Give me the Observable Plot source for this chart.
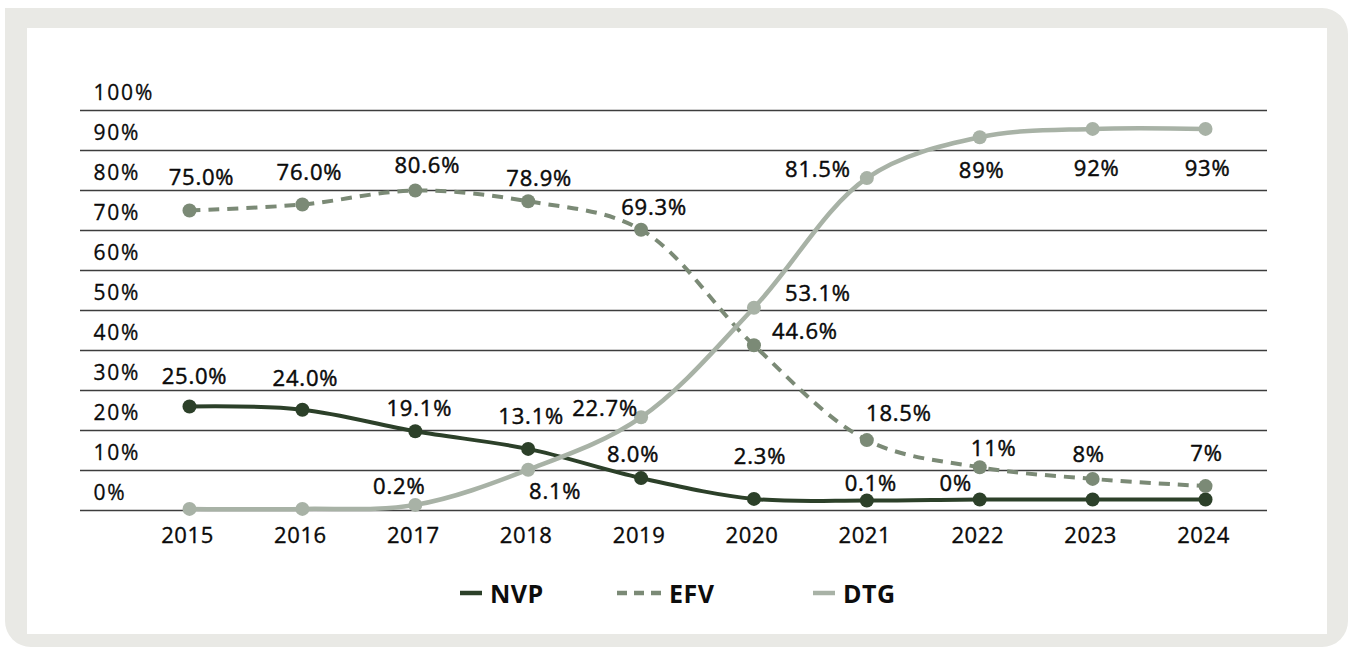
<!DOCTYPE html>
<html><head><meta charset="utf-8">
<script src="https://cdn.jsdelivr.net/npm/d3@7"></script>
<script src="https://cdn.jsdelivr.net/npm/@observablehq/plot@0.6"></script>
<style>
body{margin:0;background:#fff;font-family:"Open Sans",sans-serif;}
#frame{position:absolute;left:5px;top:8px;width:1343px;height:639px;background:#e9e9e5;border-radius:0 26px 26px 26px;}
#panel{position:absolute;left:27px;top:28px;width:1300px;height:606px;background:#fff;}
#chart{position:absolute;left:0;top:0;}
#legend{position:absolute;left:0;top:578px;width:1349px;height:30px;}
.item{position:absolute;top:0;display:flex;align-items:center;height:30px;font-weight:700;font-size:25px;color:#0d0d0d;line-height:30px;letter-spacing:0.5px;}
.item svg{margin-right:8px;}
</style></head>
<body>
<div id="frame"></div><div id="panel"></div>
<div id="chart"></div>
<div id="legend"></div>
<script>
// ---- data ----
const years = [2015, 2016, 2017, 2018, 2019, 2020, 2021, 2022, 2023, 2024];
const seriesNames = ["NVP", "EFV", "DTG"];
const nvp = [26.0, 25.2, 19.8, 15.4, 8.1, 2.9, 2.5, 2.75, 2.75, 2.75];
const efv = [75.0, 76.5, 80.0, 77.3, 70.2, 41.3, 17.6, 10.8, 7.9, 6.1];
const dtg = [0.4, 0.4, 1.4, 10.2, 23.3, 50.7, 83.1, 93.3, 95.4, 95.4];
const nvpLabels = ["25.0%", "24.0%", "19.1%", "13.1%", "8.0%", "2.3%", "0.1%", "0%", "", ""];
const efvLabels = ["75.0%", "76.0%", "80.6%", "78.9%", "69.3%", "44.6%", "18.5%", "11%", "8%", "7%"];
const dtgLabels = ["", "", "0.2%", "8.1%", "22.7%", "53.1%", "81.5%", "89%", "92%", "93%"];
const yTicks = [0, 10, 20, 30, 40, 50, 60, 70, 80, 90, 100];

// ---- styling ----
const colors = {NVP: "#2c4029", EFV: "#7b8a76", DTG: "#a8b2a6"};
const dashes = {NVP: null, EFV: "11,8", DTG: null};
const widths = {NVP: 4, EFV: 4, DTG: 4.5};
const labelOffsets = {
  NVP: [[5,-30],[3,-31],[4,-22],[3,-32],[-8,-23],[6,-42],[4,-17],[-24,-16],null,null],
  EFV: [[12,-33],[7,-32],[12,-25],[11,-22],[13,-22],[51,-13],[32,-26],[14,-18],[-4,-24],[1,-32]],
  DTG: [null,null,[-16,-18],[27,22],[-36,-8],[64,-14],[-49,-8],[2,34],[4,40],[2,40]]
};

const valuesBy = {NVP: nvp, EFV: efv, DTG: dtg};
const labelsBy = {NVP: nvpLabels, EFV: efvLabels, DTG: dtgLabels};

const marks = [
  Plot.ruleY(yTicks, {stroke: "#3d3d3d", strokeWidth: 1.3})
];
for (const s of seriesNames) {
  const data = years.map((yr, i) => ({year: yr, value: valuesBy[s][i], label: labelsBy[s][i], i}));
  marks.push(Plot.line(data, {x: "year", y: "value", curve: "catmull-rom", stroke: colors[s],
    strokeWidth: widths[s], strokeDasharray: dashes[s] ?? undefined, strokeLinecap: "butt"}));
  marks.push(Plot.dot(data, {x: "year", y: "value", r: 7, fill: colors[s], stroke: "none"}));
}
for (const s of seriesNames) {
  years.forEach((yr, i) => {
    const t = labelsBy[s][i];
    const off = labelOffsets[s][i];
    if (!t || !off) return;
    marks.push(Plot.text([{year: yr, value: valuesBy[s][i], label: t}], {
      x: "year", y: "value", text: "label", dx: off[0], dy: off[1],
      fontSize: 22, fill: "#0a0a0a", stroke: "#0a0a0a", strokeWidth: 0.45, textAnchor: "middle"
    }));
  });
}
marks.push(Plot.axisY(yTicks, {anchor: "left", tickSize: 0, tickPadding: 0, textAnchor: "start",
  dx: 13, dy: -17, tickFormat: d => d + "%", fontSize: 21, fill: "#0a0a0a", label: null}));
marks.push(Plot.axisX(years, {anchor: "bottom", tickSize: 0, tickPadding: 17, dx: -2,
  tickFormat: d => String(d), fontSize: 22, fill: "#0a0a0a", label: null}));

const chart = Plot.plot({
  width: 1349, height: 560,
  marginLeft: 80, marginRight: 82, marginTop: 110, marginBottom: 50,
  x: {type: "linear", domain: [years[0] - 0.9655, years[years.length - 1] + 0.549], axis: null},
  y: {domain: [0, 100], axis: null},
  style: {background: "transparent", overflow: "visible", fontFamily: "'Open Sans', sans-serif", color: "#0a0a0a"},
  marks
});
document.getElementById("chart").appendChild(chart);
const sel = d3.select(chart);
sel.selectAll('g[aria-label="y-axis tick label"]').attr("letter-spacing", "1.8px").attr("stroke", "#0a0a0a").attr("stroke-width", 0.3);
sel.selectAll('g[aria-label="x-axis tick label"]').attr("letter-spacing", "0.6px").attr("stroke", "#0a0a0a").attr("stroke-width", 0.35);
sel.selectAll('g[aria-label="text"]').attr("letter-spacing", "0.8px");

// legend
const legendPos = {NVP: 460, EFV: 617, DTG: 813};
const legendW = {NVP: 22, EFV: 44, DTG: 22};
const leg = document.getElementById("legend");
for (const s of seriesNames) {
  const div = document.createElement("div");
  div.className = "item";
  div.style.left = legendPos[s] + "px";
  const w = legendW[s];
  const dash = s === "EFV" ? ' stroke-dasharray="10,7"' : "";
  div.innerHTML = `<svg width="${w}" height="10"><line x1="0" x2="${w}" y1="5" y2="5" stroke="${colors[s]}" stroke-width="4.5"${dash}/></svg><span>${s}</span>`;
  leg.appendChild(div);
}
</script>
</body></html>
